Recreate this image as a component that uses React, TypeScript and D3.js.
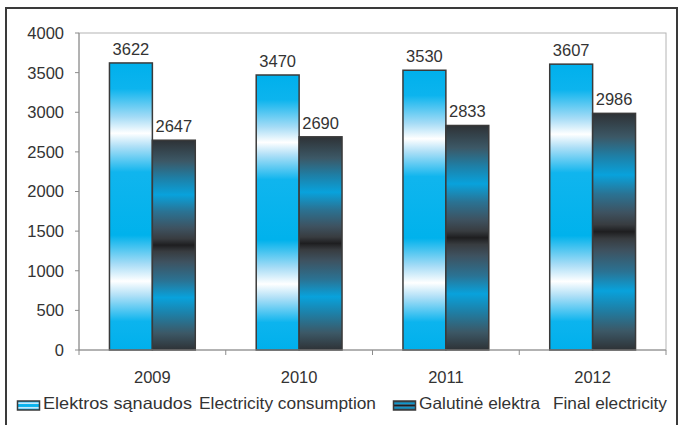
import React from "react";
import * as d3 from "d3";

const years = ["2009", "2010", "2011", "2012"];
const consumption = [3622, 3470, 3530, 3607];
const finalElectricity = [2647, 2690, 2833, 2986];
const yTicks = [0, 500, 1000, 1500, 2000, 2500, 3000, 3500, 4000];
const seriesKeys = ["consumption", "final"];
const legendLt = ["Elektros sąnaudos", "Electricity consumption"];
const legendLt2 = ["Galutinė elektra", "Final electricity"];

const W = 681;
const H = 425;
const plot = { left: 79, right: 666, top: 33, bottom: 350 };
const FONT = "'Liberation Sans', Arial, sans-serif";
const TXT = "#333";

export default function App() {
  const x0 = d3.scaleBand<string>().domain(years).range([plot.left, plot.right]).paddingInner(0).paddingOuter(0);
  const x1 = d3.scaleBand<string>().domain(seriesKeys).range([0, x0.bandwidth()]).paddingInner(0).paddingOuter(0.71);
  const y = d3.scaleLinear().domain([0, 4000]).range([plot.bottom, plot.top]);

  const rows = years.map((yr, i) => ({ yr, values: [consumption[i], finalElectricity[i]] }));

  const lightStops: [number, string][] = [
    [0, "#00b0ec"], [0.09, "#0cb4ee"], [0.19, "#a6dcf6"], [0.245, "#ffffff"], [0.29, "#b0e0f7"],
    [0.38, "#10b5ee"], [0.6, "#00b2ec"], [0.7, "#a6dcf6"], [0.76, "#ffffff"], [0.81, "#b0e0f7"],
    [0.9, "#0cb4ee"], [1, "#00b0ec"],
  ];
  const darkStops: [number, string][] = [
    [0, "#2e3236"], [0.1, "#3c5866"], [0.18, "#1e7fa6"], [0.26, "#08a2dc"], [0.34, "#2a7394"],
    [0.42, "#3e5260"], [0.47, "#383c40"], [0.5, "#1e1e20"], [0.53, "#383c40"], [0.58, "#3e5260"],
    [0.67, "#2a7394"], [0.75, "#08a2dc"], [0.83, "#1e7fa6"], [0.92, "#3c5866"], [1, "#2e3236"],
  ];

  const legendTexts: [string, number, number][] = [
    [legendLt[0], 43, 149],
    [legendLt[1], 199, 177],
    [legendLt2[0], 419, 121],
    [legendLt2[1], 553, 114],
  ];

  return (
    <svg width={W} height={H} style={{ position: "absolute", left: 0, top: 0, background: "#fff" }} fontFamily={FONT}>
      <defs>
        <linearGradient id="gLight" x1="0" y1="0" x2="0" y2="1">
          {lightStops.map(([o, c], i) => <stop key={i} offset={o} stopColor={c} />)}
        </linearGradient>
        <linearGradient id="gDark" x1="0" y1="0" x2="0" y2="1">
          {darkStops.map(([o, c], i) => <stop key={i} offset={o} stopColor={c} />)}
        </linearGradient>
      </defs>
      <rect x={0} y={0} width={W} height={H} fill="#fff" />
      {/* outer frame */}
      <path d={`M6,${H + 5} V8 H677 V${H + 5}`} fill="none" stroke="#3a3a3a" strokeWidth={2} />

      {/* plot area border */}
      <rect x={plot.left} y={plot.top} width={plot.right - plot.left} height={plot.bottom - plot.top} fill="#fff" stroke="#b4b4b4" strokeWidth={1} />

      {/* y axis */}
      <line x1={plot.left} x2={plot.left} y1={plot.top} y2={plot.bottom} stroke="#8c8c8c" strokeWidth={1} />
      {yTicks.map((t) => (
        <g key={t}>
          <line x1={plot.left - 4} x2={plot.left} y1={y(t)} y2={y(t)} stroke="#8c8c8c" />
          <text x={64} y={y(t)} dy="0.36em" textAnchor="end" fontSize={16.5} fill={TXT}>{t}</text>
        </g>
      ))}

      {/* bars */}
      {rows.map((r) => (
        <g key={r.yr} transform={`translate(${x0(r.yr)},0)`}>
          {r.values.map((v, j) => {
            const bx = x1(seriesKeys[j])!;
            const bw = x1.bandwidth();
            return (
              <g key={j}>
                <rect x={bx} y={y(v)} width={bw} height={y(0) - y(v)}
                  fill={j === 0 ? "url(#gLight)" : "url(#gDark)"} stroke="#3a3a3a" strokeWidth={1.5} />
                <text x={bx + bw / 2} y={y(v) - 8} textAnchor="middle" fontSize={16.5} fill={TXT}>{v}</text>
              </g>
            );
          })}
        </g>
      ))}

      {/* x axis */}
      <line x1={plot.left} x2={plot.right} y1={plot.bottom} y2={plot.bottom} stroke="#8c8c8c" strokeWidth={1} />
      {[...years.map((yr) => x0(yr)!), plot.right].map((xx, i) => (
        <line key={i} x1={xx} x2={xx} y1={plot.bottom} y2={plot.bottom + 5} stroke="#8c8c8c" />
      ))}
      {years.map((yr) => (
        <text key={yr} x={x0(yr)! + x0.bandwidth() / 2} y={383} textAnchor="middle" fontSize={16.5} fill={TXT}>{yr}</text>
      ))}

      {/* legend */}
      <rect x={17.5} y={401} width={22} height={9} fill="url(#gLight)" stroke="#3a3a3a" strokeWidth={1.5} />
      <rect x={393.5} y={401} width={22} height={9} fill="url(#gDark)" stroke="#3a3a3a" strokeWidth={1.5} />
      {legendTexts.map(([t, lx, len]) => (
        <text key={t} x={lx} y={409} fontSize={16.5} fill={TXT} textLength={len} lengthAdjust="spacingAndGlyphs">{t}</text>
      ))}
    </svg>
  );
}
